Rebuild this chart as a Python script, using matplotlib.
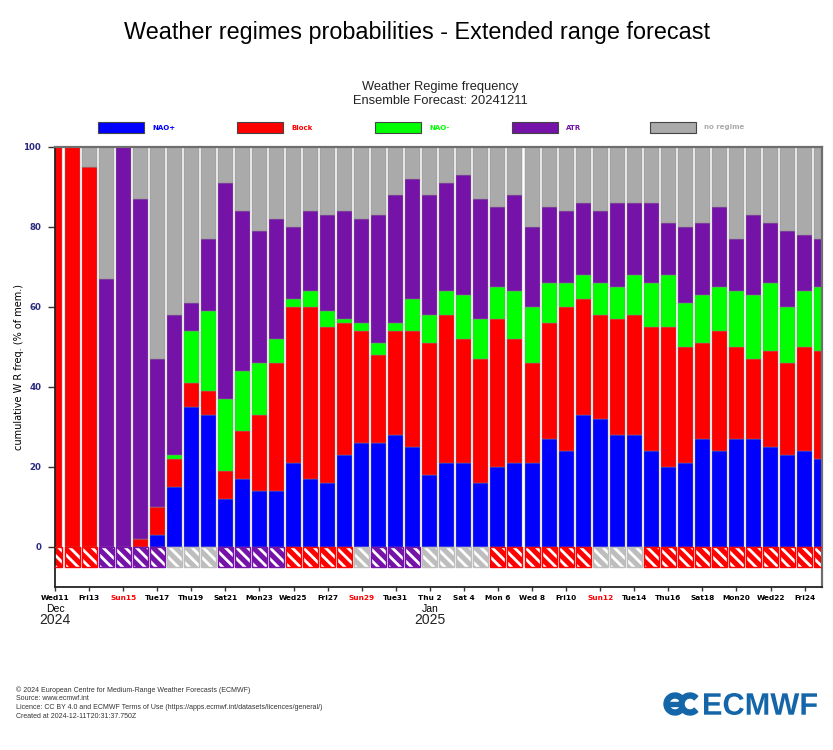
import matplotlib
matplotlib.use("Agg")
import matplotlib.pyplot as plt
import numpy as np
from matplotlib.patches import Wedge, Rectangle, PathPatch
from matplotlib.textpath import TextPath
from matplotlib.font_manager import FontProperties
from matplotlib.transforms import Affine2D

# ---------------- data ----------------
days = np.arange(46)  # Wed 11 Dec 2024 .. Sat 25 Jan 2025
nao_plus = [0, 0, 0, 0, 0, 0, 3, 15, 35, 33, 12, 17, 14, 14, 21, 17, 16, 23, 26, 26, 28, 25, 18,
            21, 21, 16, 20, 21, 21, 27, 24, 33, 32, 28, 28, 24, 20, 21, 27, 24, 27, 27, 25, 23, 24, 22]
block = [100, 100, 95, 0, 0, 2, 7, 7, 6, 6, 7, 12, 19, 32, 39, 43, 39, 33, 28, 22, 26, 29, 33,
         37, 31, 31, 37, 31, 25, 29, 36, 29, 26, 29, 30, 31, 35, 29, 24, 30, 23, 20, 24, 23, 26, 27]
nao_minus = [0, 0, 0, 0, 0, 0, 0, 1, 13, 20, 18, 15, 13, 6, 2, 4, 4, 1, 2, 3, 2, 8, 7,
             6, 11, 10, 8, 12, 14, 10, 6, 6, 8, 8, 10, 11, 13, 11, 12, 11, 14, 16, 17, 14, 14, 16]
atr = [0, 0, 0, 67, 100, 85, 37, 35, 7, 18, 54, 40, 33, 30, 18, 20, 24, 27, 26, 32, 32, 30, 30,
       27, 30, 30, 20, 24, 20, 19, 18, 18, 18, 21, 18, 20, 13, 19, 18, 20, 13, 20, 15, 19, 14, 12]
# dominant regime indicator (B=Block, A=ATR, N=no regime)
dominant = list("BBBAAAANNNAAAABBBBNAAANNNNBBBBBBNNNBBBBBBBBBBB")

regime_names = ["NAO+", "Block", "NAO-", "ATR", "no regime"]
regime_colors = ["#0000ff", "#ff0000", "#00ff00", "#7512a8", "#aaaaaa"]
dom_colors = {"B": "#ff0000", "A": "#7512a8", "N": "#bdbdbd"}

tick_days = list(range(0, 46, 2))
tick_labels = ["Wed11", "Fri13", "Sun15", "Tue17", "Thu19", "Sat21", "Mon23", "Wed25", "Fri27",
               "Sun29", "Tue31", "Thu 2", "Sat 4", "Mon 6", "Wed 8", "Fri10", "Sun12", "Tue14",
               "Thu16", "Sat18", "Mon20", "Wed22", "Fri24"]
month_marks = [(0, "Dec", "2024"), (22, "Jan", "2025")]

# ---------------- figure ----------------
W, H = 833, 750
plt.rcParams["hatch.linewidth"] = 2.0
fig = plt.figure(figsize=(W / 100, H / 100), dpi=100)

def fx(px):
    return px / W

def fy(py):
    return 1 - py / H

ax = fig.add_axes([fx(55), fy(587), fx(822 - 55), (587 - 147) / H])

series = [nao_plus, block, nao_minus, atr]
bottom = np.zeros(len(days))
for vals, col in zip(series, regime_colors[:4]):
    vals = np.array(vals, dtype=float)
    ax.bar(days, vals, bottom=bottom, width=0.88, color=col, edgecolor="#8a8a8a",
           linewidth=0.3, zorder=2)
    bottom += vals
noreg = 100 - bottom
ax.bar(days, noreg, bottom=bottom, width=0.88, color=regime_colors[4], edgecolor="#8a8a8a",
       linewidth=0.3, zorder=2)

# dominant regime indicator boxes
for d, code in zip(days, dominant):
    c = dom_colors[code]
    ax.bar(d, -5, bottom=0, width=0.88, color=c, edgecolor="white", linewidth=0,
           hatch="\\\\\\", zorder=2)
    ax.bar(d, -5, bottom=0, width=0.88, facecolor="none", edgecolor=c, linewidth=1.0, zorder=3)

ax.set_xlim(0, 45.02)
ax.set_ylim(-10, 100)
ax.set_yticks([0, 20, 40, 60, 80, 100])
ax.set_yticklabels(["0", "20", "40", "60", "80", "100"], fontsize=6.2, fontweight="bold",
                   color="#2a2a80")
ax.set_xticks(tick_days)
ax.set_xticklabels(tick_labels, fontsize=5.3, fontweight="bold")
for lab in ax.get_xticklabels():
    if lab.get_text().startswith("Sun"):
        lab.set_color("#ff0000")
ax.tick_params(axis="y", length=5, width=1, pad=5, color="#333333")
ax.tick_params(axis="x", length=3, width=1, pad=3, color="#333333")
for s in ["left", "bottom"]:
    ax.spines[s].set_color("#222222")
    ax.spines[s].set_linewidth(1.3)
for s in ["top", "right"]:
    ax.spines[s].set_color("#6e6e6e")
    ax.spines[s].set_linewidth(1.6)

ax.set_ylabel("cumulative W R freq. (% of mem.)", fontsize=7)
ax.yaxis.set_label_coords(-0.04, 0.5)

for d, mon, yr in month_marks:
    xpx = 55 + d * 767 / 45.02
    fig.text(fx(xpx), fy(609), mon, ha="center", va="center", fontsize=7.5,
             family="Liberation Sans")
    fig.text(fx(xpx), fy(620.5), yr, ha="center", va="center", fontsize=10,
             family="Liberation Sans", color="#222222")

# titles
fig.text(0.5, fy(32), "Weather regimes probabilities - Extended range forecast",
         ha="center", va="center", fontsize=16.8, family="Liberation Sans")
fig.text(fx(440), fy(87), "Weather Regime frequency", ha="center", va="center",
         fontsize=9.3, family="Liberation Sans", color="#222222")
fig.text(fx(440), fy(101), "Ensemble Forecast: 20241211", ha="center", va="center",
         fontsize=9.3, family="Liberation Sans", color="#222222")

# legend
leg_x = [98, 237, 375, 512, 650]
for x0, name, col in zip(leg_x, regime_names, regime_colors):
    fig.patches.append(Rectangle((fx(x0), fy(133)), fx(46), 11 / H, transform=fig.transFigure,
                                 facecolor=col, edgecolor="#444444", linewidth=0.8))
    fig.text(fx(x0 + 54), fy(127.5), name, ha="left", va="center", fontsize=5,
             fontweight="bold", color=col if name != "no regime" else "#aaaaaa")

# footer
footer = ["© 2024 European Centre for Medium-Range Weather Forecasts (ECMWF)",
          "Source: www.ecmwf.int",
          "Licence: CC BY 4.0 and ECMWF Terms of Use (https://apps.ecmwf.int/datasets/licences/general/)",
          "Created at 2024-12-11T20:31:37.750Z"]
for i, line in enumerate(footer):
    fig.text(fx(16), fy(690 + i * 8.7), line, ha="left", va="center", fontsize=5,
             family="Liberation Sans", color="#333333")

# ECMWF logo
lax = fig.add_axes([fx(662), fy(719), fx(157), 30 / H])
lax.set_xlim(0, 157)
lax.set_ylim(0, 30)
lax.axis("off")
blue = "#1466a8"
lax.add_patch(Wedge((13, 15), 11, 45, 315, width=5, color=blue))
lax.add_patch(Wedge((28, 15), 11, 45, 315, width=5, color=blue))
lax.add_patch(Rectangle((7, 13), 14, 4, color=blue))
fp = FontProperties(family="Liberation Sans", weight="bold")
tp = TextPath((0, 0), "ECMWF", size=10, prop=fp)
bb = tp.get_extents()
sx = 113 / bb.width
sy = 22 / bb.height
tr = Affine2D().translate(-bb.x0, -bb.y0).scale(sx, sy).translate(42, 4)
lax.add_patch(PathPatch(tr.transform_path(tp), color=blue, lw=0))

fig.savefig("out.png", dpi=100)
